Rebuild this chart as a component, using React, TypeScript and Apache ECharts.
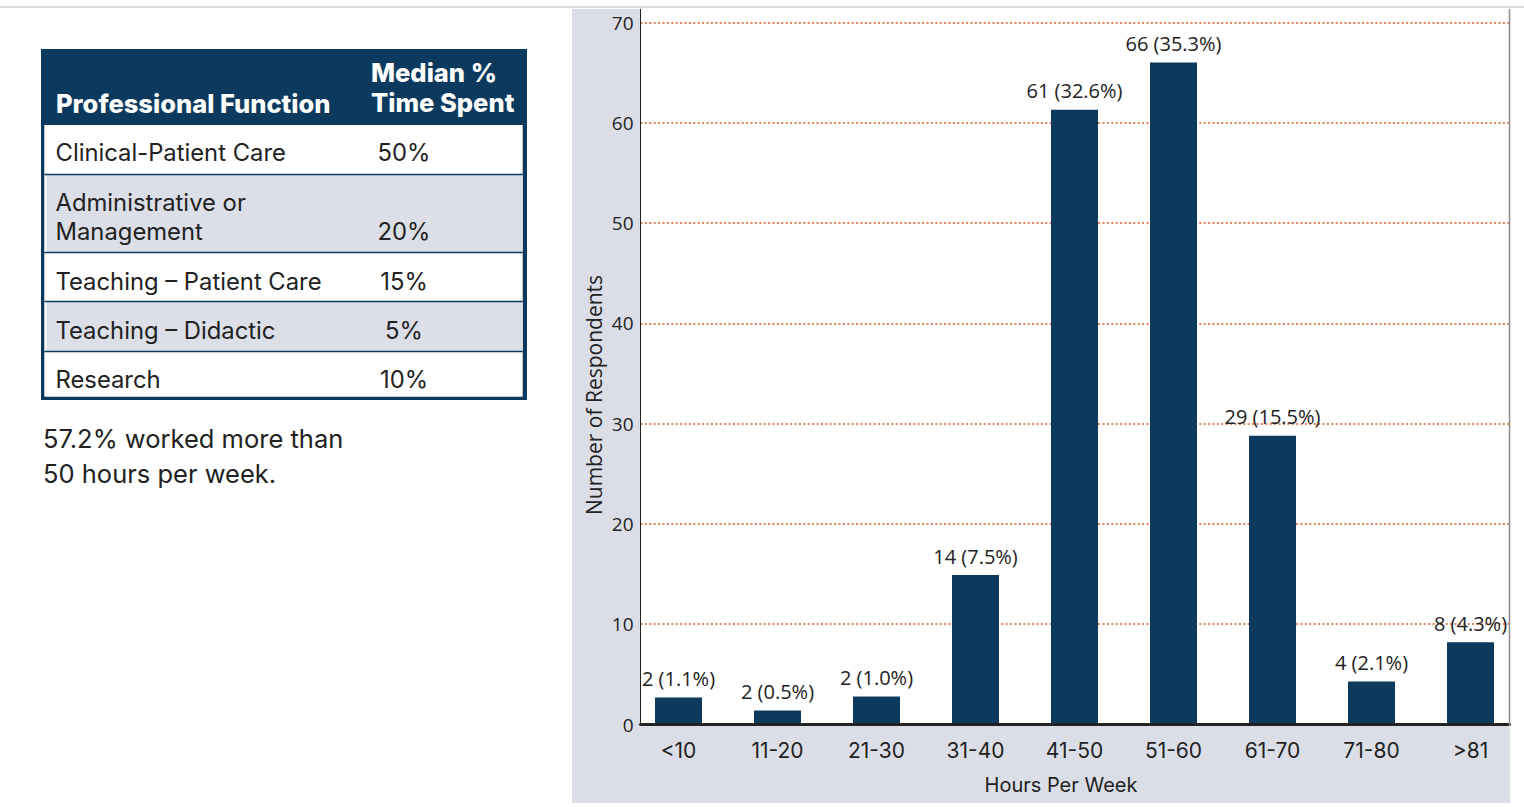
import React, { useEffect, useRef } from "react";
import * as echarts from "echarts";

// ---- chart data ----
const categories = ["<10", "11-20", "21-30", "31-40", "41-50", "51-60", "61-70", "71-80", ">81"];
const respondents = [2.7, 1.4, 2.8, 14.9, 61.3, 66.0, 28.8, 4.3, 8.2];
const barLabels = ["2 (1.1%)", "2 (0.5%)", "2 (1.0%)", "14 (7.5%)", "61 (32.6%)", "66 (35.3%)", "29 (15.5%)", "4 (2.1%)", "8 (4.3%)"];
const yMin = 0;
const yMax = 70;
const yInterval = 10;

// ---- table data ----
const tableHeaderLeft = "Professional Function";
const tableHeaderRight = ["Median %", "Time Spent"];
const functions = ["Clinical-Patient Care", "Administrative or\nManagement", "Teaching \u2013 Patient Care", "Teaching \u2013 Didactic", "Research"];
const medians = ["50%", "20%", "15%", "5%", "10%"];
const summaryLines = ["57.2% worked more than", "50 hours per week."];

const NAVY = "#0b3a5e";
const ROWGREY = "#dcdfe8";
const PANEL = "#dcdee7";
const TXT = "#222222";
const SANS = "Inter";
const NUM = "Open Sans";

function txt(x: number, y: number, text: string, opts: any = {}) {
  const align = opts.align || "left";
  const va = opts.verticalAlign || "middle";
  return {
    type: "text",
    x,
    y,
    rotation: opts.rotation || 0,
    z: 5,
    style: {
      text,
      fill: opts.fill || TXT,
      fontSize: opts.fontSize || 24,
      fontFamily: opts.fontFamily || SANS,
      fontWeight: opts.fontWeight || "normal",
      lineHeight: opts.lineHeight,
      align,
      textAlign: align,
      verticalAlign: va,
      textVerticalAlign: va,
    },
  };
}

export default function App() {
  const ref = useRef<HTMLDivElement>(null);

  useEffect(() => {
    document.body.style.margin = "0";
    if (!ref.current) return;
    const chart = echarts.init(ref.current, undefined, { renderer: "svg" });

    // table geometry
    const rowTops = [125, 175, 253, 302, 352];
    const rowBottoms = [174, 252, 301, 351, 397];
    const textMid = [152.5, 217, 281.5, 330.5, 379.5];
    const numMid = [152.5, 231.5, 281.5, 330.5, 379.5];

    const tableEls: any[] = [
      { type: "rect", z: 1, shape: { x: 41, y: 49, width: 486, height: 351 }, style: { fill: NAVY } },
      { type: "rect", z: 1, z2: 1, shape: { x: 44.3, y: 125, width: 478.4, height: 271.8 }, style: { fill: "#fff" } },
    ];
    rowTops.forEach((t, i) => {
      if (i % 2 === 1) {
        tableEls.push({
          type: "rect", z: 1, z2: 2,
          shape: { x: 46.5, y: t, width: 476.2, height: rowBottoms[i] - t },
          style: { fill: ROWGREY },
        });
      }
      if (i < rowTops.length - 1) {
        tableEls.push({
          type: "line", z: 1, z2: 3,
          shape: { x1: 44.3, y1: rowBottoms[i] + 0.5, x2: 522.7, y2: rowBottoms[i] + 0.5 },
          style: { stroke: NAVY, lineWidth: 1.5 },
        });
      }
    });
    functions.forEach((f, i) => {
      tableEls.push(txt(55.5, textMid[i], f, { fontSize: 23.8, lineHeight: 29 }));
      tableEls.push(txt(404, numMid[i], medians[i], { fontSize: 23.8, align: "center" }));
    });
    tableEls.push(txt(56, 103, tableHeaderLeft, { fontSize: 25.5, fontWeight: 800, fill: "#fff" }));
    tableEls.push(txt(371, 72.5, tableHeaderRight[0], { fontSize: 25.5, fontWeight: 800, fill: "#fff" }));
    tableEls.push(txt(371, 102.5, tableHeaderRight[1], { fontSize: 25.5, fontWeight: 800, fill: "#fff" }));
    tableEls.push(txt(43, 438.5, summaryLines[0], { fontSize: 25.5 }));
    tableEls.push(txt(43, 473.5, summaryLines[1], { fontSize: 25.5 }));

    const option: any = {
      animation: false,
      grid: [
        { left: 629, top: 22.5, width: 891, height: 702 },
        { left: 640.5, top: 22.5, width: 869, height: 702 },
      ],
      xAxis: [
        {
          type: "category",
          gridIndex: 0,
          data: categories,
          axisLine: { show: false },
          axisTick: { show: false },
          splitLine: { show: false },
          axisLabel: { fontFamily: SANS, fontSize: 21, color: TXT, margin: 15 },
        },
        {
          type: "value",
          gridIndex: 1,
          min: 0,
          max: 1,
          z: 3,
          axisLine: { show: true, onZero: false, lineStyle: { color: TXT, width: 3 } },
          axisTick: { show: false },
          axisLabel: { show: false },
          splitLine: { show: false },
          name: "Hours Per Week",
          nameLocation: "middle",
          nameGap: 50,
          nameTextStyle: { fontFamily: SANS, fontSize: 20, color: TXT, padding: [0, 28, 0, 0] },
        },
      ],
      yAxis: [
        { type: "value", gridIndex: 0, min: yMin, max: yMax, interval: yInterval, show: false },
        {
          type: "value",
          gridIndex: 1,
          min: yMin,
          max: yMax,
          interval: yInterval,
          axisLine: { show: true, lineStyle: { color: TXT, width: 1 } },
          axisTick: { show: false },
          axisLabel: { fontFamily: NUM, fontSize: 19, color: TXT, margin: 7 },
          splitLine: { show: true, lineStyle: { color: "#dd5a1f", width: 1.5, type: [2, 2.4] } },
        },
      ],
      series: [
        {
          type: "bar",
          xAxisIndex: 0,
          yAxisIndex: 0,
          data: respondents,
          barWidth: 47,
          itemStyle: { color: NAVY },
          label: {
            show: true,
            position: "top",
            distance: 9,
            fontFamily: NUM,
            fontSize: 20,
            color: TXT,
            formatter: (p: any) => barLabels[p.dataIndex],
          },
        },
      ],
      graphic: [
        { type: "line", z: -3, shape: { x1: 0, y1: 7, x2: 1524, y2: 7 }, style: { stroke: "#d9d9d9", lineWidth: 2 } },
        { type: "rect", z: -2, shape: { x: 572, y: 9, width: 938, height: 794 }, style: { fill: PANEL } },
        { type: "rect", z: -1, shape: { x: 641, y: 9, width: 868.5, height: 716 }, style: { fill: "#fff" } },
        { type: "line", z: 4, shape: { x1: 640.5, y1: 9, x2: 640.5, y2: 23 }, style: { stroke: TXT, lineWidth: 1 } },
        { type: "line", z: 4, shape: { x1: 1509.5, y1: 9, x2: 1509.5, y2: 726 }, style: { stroke: "#8c8c8c", lineWidth: 1.5 } },
        txt(594, 395, "Number of Respondents", { fontFamily: NUM, fontSize: 21, align: "center", rotation: Math.PI / 2 }),
        ...tableEls,
      ],
    };
    chart.setOption(option);
    return () => chart.dispose();
  }, []);

  return <div ref={ref} style={{ position: "absolute", left: 0, top: 0, width: 1524, height: 807 }} />;
}
